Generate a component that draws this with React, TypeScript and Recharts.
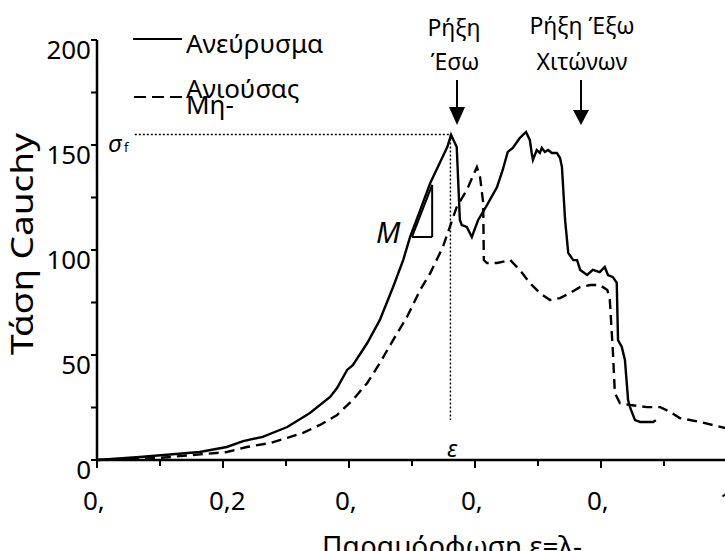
import { LineChart, Line, XAxis, YAxis, ReferenceLine } from 'recharts';

// Ανεύρυσμα (solid)
const aneurysmStrain = [0, 0.068, 0.163, 0.206, 0.232, 0.263, 0.302, 0.338, 0.37, 0.381, 0.397, 0.406, 0.429, 0.449, 0.47, 0.486, 0.497, 0.513, 0.529, 0.544, 0.556, 0.562, 0.571, 0.576, 0.579, 0.587, 0.595, 0.605, 0.619, 0.635, 0.644, 0.652, 0.66, 0.671, 0.681, 0.687, 0.69, 0.692, 0.698, 0.703, 0.706, 0.711, 0.716, 0.722, 0.73, 0.735, 0.738, 0.743, 0.748, 0.756, 0.762, 0.767, 0.778, 0.787, 0.798, 0.806, 0.811, 0.819, 0.825, 0.827, 0.833, 0.838, 0.843, 0.846, 0.854, 0.862, 0.883, 0.887];
const aneurysmStress = [0, 1.4, 3.8, 6.2, 9.0, 11.0, 15.7, 22.4, 30.0, 34.3, 42.9, 45.2, 55.7, 66.7, 82.4, 95.2, 106.2, 119, 131.9, 141.4, 149.0, 154.8, 149.0, 114.3, 111.9, 111.0, 106.2, 114.3, 121.4, 130.0, 138.1, 146.7, 148.6, 153.3, 156.2, 152.4, 146.2, 142.9, 147.6, 146.2, 148.6, 146.7, 147.6, 146.2, 146.2, 143.8, 139.5, 114.3, 98.6, 95.2, 95.2, 90.5, 88.1, 90.5, 89.5, 91.9, 88.1, 87.1, 84.3, 57.1, 53.8, 47.6, 28.6, 25.2, 19.0, 18.1, 18.1, 19.0];

// Μη-Ανιούσας (dashed)
const normalStrain = [0, 0.1, 0.206, 0.238, 0.275, 0.302, 0.327, 0.354, 0.381, 0.406, 0.429, 0.449, 0.47, 0.492, 0.513, 0.529, 0.549, 0.571, 0.587, 0.603, 0.608, 0.613, 0.614, 0.619, 0.635, 0.656, 0.671, 0.687, 0.703, 0.719, 0.735, 0.751, 0.767, 0.783, 0.798, 0.81, 0.814, 0.819, 0.822, 0.83, 0.846, 0.873, 0.894, 0.91, 0.925, 0.957, 1.0];
const normalStress = [0, 1.0, 3.8, 6.2, 8.1, 10.5, 12.9, 16.7, 21.4, 28.6, 36.7, 46.2, 57.1, 68.1, 81.0, 89.0, 101.4, 120.5, 128.6, 139.5, 134.8, 122.4, 95.2, 93.8, 93.8, 95.2, 90.5, 84.3, 79.5, 76.2, 77.1, 79.5, 82.4, 83.3, 83.3, 81.0, 76.2, 51.0, 31.9, 27.1, 26.2, 25.2, 25.2, 22.9, 20.0, 18.1, 15.0];

const xTicks = [0, 0.1, 0.2, 0.3, 0.4, 0.5, 0.6, 0.7, 0.8, 0.9, 1];
const xTickLabels = ['0,', '0,2', '0,', '0,', '0,', '1'];
const yTicks = [0, 25, 50, 75, 100, 125, 150, 175, 200];
const yTickLabels = ['0', '50', '100', '150', '200'];

// failure point (σf, ε) and modulus triangle
const sigmaF = 155;
const epsF = 0.561;
const triLeft = 0.5;
const triRight = 0.532;
const triLow = 106.2;
const triHigh = 131;

const aneurysmData = aneurysmStrain.map((x, i) => ({ x, y: aneurysmStress[i] }));
const normalData = normalStrain.map((x, i) => ({ x, y: normalStress[i] }));

const FONT = '"Noto Sans", sans-serif';

const XTick = (props: any) => {
  const { x, y, payload } = props;
  const k = Math.round(payload.value * 10);
  const major = k % 2 === 0;
  const label = major ? xTickLabels[k / 2] : null;
  return (
    <g>
      <line x1={x} x2={x} y1={y} y2={y + (major ? 8 : 6)} stroke="#000" strokeWidth={2} />
      {label && (
        <text x={label === '1' ? x : x - 14} y={y + 50} textAnchor={label === '1' ? 'middle' : 'start'} fontSize={26} fontFamily={FONT} fill="#000">
          {label}
        </text>
      )}
    </g>
  );
};

const YTick = (props: any) => {
  const { x, y, payload } = props;
  const major = payload.value % 50 === 0;
  const label = major ? yTickLabels[payload.value / 50] : null;
  return (
    <g>
      <line x1={x - 6} x2={x} y1={y} y2={y} stroke="#000" strokeWidth={2} />
      {label && (
        <text x={91} y={y + 19} textAnchor="end" fontSize={26} fontFamily={FONT} fill="#000">
          {label}
        </text>
      )}
    </g>
  );
};

export default function App() {
  return (
    <div style={{ position: 'fixed', left: 0, top: 0, width: 725, height: 551, overflow: 'hidden', background: '#fff' }}>
      <LineChart width={760} height={600} margin={{ top: 40, right: 33, bottom: 80, left: 37 }}>
        <XAxis
          dataKey="x"
          type="number"
          domain={[0, 1]}
          ticks={xTicks}
          interval={0}
          allowDataOverflow
          height={60}
          tickSize={0}
          tickMargin={0}
          tickLine={false}
          axisLine={{ stroke: '#000', strokeWidth: 2.5 }}
          tick={<XTick />}
        />
        <YAxis
          type="number"
          domain={[0, 200]}
          ticks={yTicks}
          interval={0}
          width={60}
          tickSize={0}
          tickMargin={0}
          tickLine={false}
          axisLine={{ stroke: '#000', strokeWidth: 2.5 }}
          tick={<YTick />}
        />
        <ReferenceLine segment={[{ x: 0.06, y: sigmaF }, { x: epsF, y: sigmaF }]} stroke="#000" strokeWidth={1.5} strokeDasharray="2 2" />
        <ReferenceLine segment={[{ x: epsF, y: sigmaF }, { x: epsF, y: 19 }]} stroke="#000" strokeWidth={1.5} strokeDasharray="2 2" />
        <ReferenceLine segment={[{ x: triRight, y: triHigh }, { x: triRight, y: triLow }]} stroke="#000" strokeWidth={2} />
        <ReferenceLine segment={[{ x: triLeft, y: triLow }, { x: triRight, y: triLow }]} stroke="#000" strokeWidth={2} />
        <ReferenceLine segment={[{ x: triLeft, y: triLow }, { x: triRight, y: triHigh }]} stroke="#000" strokeWidth={2} />
        <Line data={aneurysmData} dataKey="y" type="linear" stroke="#000" strokeWidth={2.4} dot={false} isAnimationActive={false} />
        <Line data={normalData} dataKey="y" type="linear" stroke="#000" strokeWidth={2.4} strokeDasharray="10 6" dot={false} isAnimationActive={false} />

        {/* legend */}
        <line x1={133} x2={182} y1={39} y2={39} stroke="#000" strokeWidth={2.2} />
        <text x={186} y={53} fontSize={26} fontFamily={FONT} fill="#000">Ανεύρυσμα</text>
        <line x1={134} x2={182} y1={97} y2={97} stroke="#000" strokeWidth={2.2} strokeDasharray="12 6" />
        <text x={186} y={98} fontSize={26} fontFamily={FONT} fill="#000">Ανιούσας</text>
        <text x={186} y={114} fontSize={26} fontFamily={FONT} fill="#000">Μη-</text>

        {/* annotations */}
        <text x={454} y={36} textAnchor="middle" fontSize={23} fontFamily={FONT} fill="#000">Ρήξη</text>
        <text x={455} y={70} textAnchor="middle" fontSize={23} fontFamily={FONT} fill="#000">Έσω</text>
        <line x1={457} x2={457} y1={80} y2={110} stroke="#000" strokeWidth={2} />
        <polygon points="449,107 465,107 457,125" fill="#000" />
        <text x={582} y={34} textAnchor="middle" fontSize={23} fontFamily={FONT} fill="#000">Ρήξη Έξω</text>
        <text x={582} y={70} textAnchor="middle" fontSize={23} fontFamily={FONT} fill="#000">Χιτώνων</text>
        <line x1={581} x2={581} y1={80} y2={112} stroke="#000" strokeWidth={2} />
        <polygon points="573,110 589,110 581,125" fill="#000" />

        <text x={108} y={152} fontSize={24} fontStyle="italic" fontFamily={FONT} fill="#000">σ</text>
        <text x={124} y={152} fontSize={13} fontFamily={FONT} fill="#000">f</text>
        <text x={452} y={457} textAnchor="middle" fontSize={24} fontStyle="italic" fontFamily={FONT} fill="#000">ε</text>
        <text x={376} y={243} fontSize={29} fontStyle="italic" fontFamily={FONT} fill="#000">M</text>

        {/* axis titles */}
        <text x={452} y={556} textAnchor="middle" fontSize={28} fontFamily={FONT} fill="#000">Παραμόρφωση ε=λ-</text>
        <text x={0} y={0} transform="translate(33,244) rotate(-90)" textAnchor="middle" fontSize={30} textLength={222} lengthAdjust="spacingAndGlyphs" fontFamily={FONT} fill="#000">Τάση Cauchy</text>
      </LineChart>
    </div>
  );
}
